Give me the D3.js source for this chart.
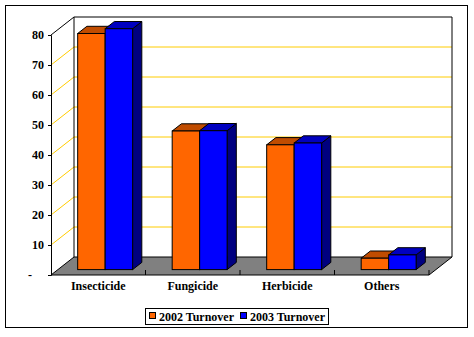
<!DOCTYPE html>
<html>
<head>
<meta charset="utf-8">
<script src="https://cdn.jsdelivr.net/npm/d3@7"></script>
<style>
  body { margin: 0; background: #fff; }
  svg text { font-family: "Liberation Serif", serif; font-weight: bold; font-size: 12px; fill: #000; }
</style>
</head>
<body>
<div id="chart"></div>
<script>
const categories = ["Insecticide", "Fungicide", "Herbicide", "Others"];
const seriesNames = ["2002 Turnover", "2003 Turnover"];
const turnover2002 = [78.7, 46.2, 41.6, 3.8];
const turnover2003 = [80.3, 46.3, 42.2, 4.9];
const yTicks = [0, 10, 20, 30, 40, 50, 60, 70, 80];

const width = 474;
const height = 337;

// 3D depth of the plot box
const DX = 23, DY = -18;
// bar sits between these fractions of the depth
const z0 = 0.3, z1 = 0.7;

const colors = [
    { front: "#ff6600", top: "#c04c00", side: "#803300" },
    { front: "#0000ff", top: "#0000c0", side: "#000080" }
];

const svg = d3.select("#chart")
    .append("svg")
    .attr("width", width)
    .attr("height", height);

// outer frame
svg.append("rect")
    .attr("x", 5.5).attr("y", 5.5)
    .attr("width", 462).attr("height", 322)
    .attr("fill", "none").attr("stroke", "#000");

const x = d3.scaleBand()
    .domain(categories)
    .range([51, 429]);

const xSub = d3.scaleBand()
    .domain(seriesNames)
    .range([0, x.bandwidth()])
    .paddingOuter(0.72);

const y = d3.scaleLinear()
    .domain([0, 80])
    .range([275, 35]);

const proj = (px, v, z) => [px + z * DX, y(v) + z * DY];
const pts = arr => arr.map(p => p.join(",")).join(" ");

const xL = x.range()[0], xR = x.range()[1];

// floor
svg.append("polygon")
    .attr("points", pts([proj(xL, 0, 0), proj(xR, 0, 0), proj(xR, 0, 1), proj(xL, 0, 1)]))
    .attr("fill", "#808080")
    .attr("stroke", "#000");

// gridlines (side wall + back wall)
const grid = svg.append("g").attr("stroke", "#ffcc00").attr("fill", "none");
yTicks.filter(v => v > 0 && v < 80).forEach(v => {
    grid.append("polyline")
        .attr("points", pts([proj(xL, v, 0), proj(xL, v, 1), proj(xR, v, 1)]));
});

// walls outline
const walls = svg.append("g").attr("stroke", "#000").attr("fill", "none");
walls.append("polyline")
    .attr("points", pts([proj(xL, 0, 1), proj(xL, 80, 1), proj(xR, 80, 1), proj(xR, 0, 1)]));
walls.append("line")
    .attr("x1", proj(xL, 80, 0)[0]).attr("y1", proj(xL, 80, 0)[1])
    .attr("x2", proj(xL, 80, 1)[0]).attr("y2", proj(xL, 80, 1)[1]);

// value axis on the front edge
const yAxis = d3.axisLeft(y)
    .tickValues(yTicks)
    .tickSize(3)
    .tickPadding(5)
    .tickFormat(d => d === 0 ? "-" : d);

const yg = svg.append("g")
    .attr("transform", "translate(" + xL + ",0)")
    .call(yAxis)
    .attr("font-family", "Liberation Serif")
    .attr("font-size", 12);
yg.select(".domain").attr("stroke", "#000");
yg.selectAll("text")
    .attr("x", d => d === 0 ? -19 : -7);

// category ticks on the front floor edge
svg.append("g").selectAll("line")
    .data(categories.slice(1).concat([null]))
    .enter()
    .append("line")
        .attr("x1", d => d ? x(d) : xR)
        .attr("x2", d => d ? x(d) : xR)
        .attr("y1", y(0))
        .attr("y2", y(0) - 5)
        .attr("stroke", "#000");

// bars
const data = categories.map((c, i) => ({ cat: c, vals: [turnover2002[i], turnover2003[i]] }));
const bars = svg.append("g").attr("stroke", "#000").attr("stroke-linejoin", "miter");

data.forEach(d => {
    d.vals.forEach((v, s) => {
        const xa = x(d.cat) + xSub(seriesNames[s]);
        const xb = xa + xSub.bandwidth();
        const g = bars.append("g");
        const fa = proj(xa, v, z0), fb = proj(xb, v, z0), fb0 = proj(xb, 0, z0);
        const ka = proj(xa, v, z1), kb = proj(xb, v, z1), kb0 = proj(xb, 0, z1);
        g.append("polygon")
            .attr("points", pts([fb, kb, kb0, fb0]))
            .attr("fill", colors[s].side);
        g.append("polygon")
            .attr("points", pts([fa, ka, kb, fb]))
            .attr("fill", colors[s].top);
        g.append("rect")
            .attr("x", fa[0]).attr("y", fa[1])
            .attr("width", fb[0] - fa[0])
            .attr("height", fb0[1] - fb[1])
            .attr("fill", colors[s].front);
    });
});

// category labels
svg.append("g")
    .attr("font-family", "Liberation Serif")
    .selectAll("text")
    .data(categories)
    .enter()
    .append("text")
        .attr("x", d => x(d) + x.bandwidth() / 2)
        .attr("y", 290)
        .attr("text-anchor", "middle")
        .text(d => d);

// legend
const legend = svg.append("g").attr("font-family", "Liberation Serif");
legend.append("rect")
    .attr("x", 145.5).attr("y", 308.5)
    .attr("width", 183).attr("height", 16)
    .attr("fill", "#fff").attr("stroke", "#000");

const legendX = [149, 240];
seriesNames.forEach((name, i) => {
    legend.append("rect")
        .attr("x", legendX[i] + 0.5).attr("y", 312.5)
        .attr("width", 6).attr("height", 6)
        .attr("fill", colors[i].front)
        .attr("stroke", "#000");
    legend.append("text")
        .attr("x", legendX[i] + 10)
        .attr("y", 320.5)
        .text(name);
});
</script>
</body>
</html>
